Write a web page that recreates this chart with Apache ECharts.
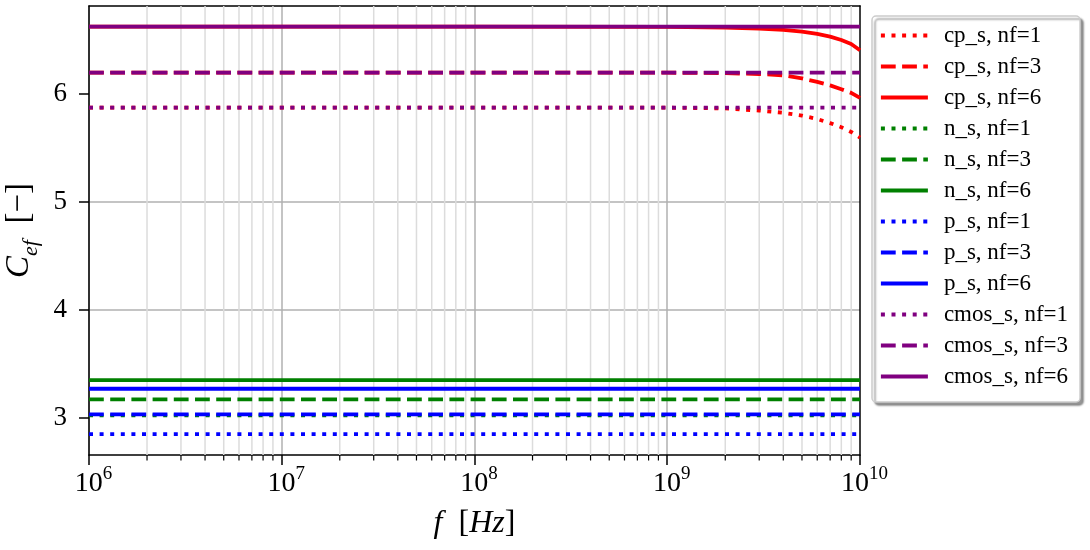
<!DOCTYPE html>
<html><head><meta charset="utf-8">
<script src="https://cdn.jsdelivr.net/npm/echarts@6/dist/echarts.min.js"></script>
<style>html,body{margin:0;padding:0;background:#fff}#c{width:1090px;height:550px}</style>
</head><body><div id="c"></div>
<script>
// ---- data ----
const freqs = [1e6, 1e7, 1e8, 1e9, 2e9, 3e9, 4e9, 5e9, 6e9, 7e9, 8e9, 9e9, 1e10];
const cpNf1 = [5.874, 5.874, 5.874, 5.873, 5.866, 5.846, 5.826, 5.800, 5.768, 5.730, 5.692, 5.648, 5.596];
const cpNf3 = [6.198, 6.198, 6.198, 6.197, 6.193, 6.185, 6.172, 6.145, 6.112, 6.080, 6.044, 6.010, 5.963];
const cpNf6 = [6.624, 6.624, 6.624, 6.622, 6.614, 6.605, 6.594, 6.578, 6.556, 6.531, 6.500, 6.463, 6.405];
const nNf1 = [3.022, 3.022, 3.022, 3.022, 3.022, 3.022, 3.022, 3.022, 3.022, 3.022, 3.022, 3.022, 3.022];
const nNf3 = [3.170, 3.170, 3.170, 3.170, 3.170, 3.170, 3.170, 3.170, 3.170, 3.170, 3.170, 3.170, 3.170];
const nNf6 = [3.349, 3.349, 3.349, 3.349, 3.349, 3.349, 3.349, 3.349, 3.349, 3.349, 3.349, 3.349, 3.349];
const pNf1 = [2.849, 2.849, 2.849, 2.849, 2.849, 2.849, 2.849, 2.849, 2.849, 2.849, 2.849, 2.849, 2.849];
const pNf3 = [3.031, 3.031, 3.031, 3.031, 3.031, 3.031, 3.031, 3.031, 3.031, 3.031, 3.031, 3.031, 3.031];
const pNf6 = [3.269, 3.269, 3.269, 3.269, 3.269, 3.269, 3.269, 3.269, 3.269, 3.269, 3.269, 3.269, 3.269];
const cmosNf1 = [5.874, 5.874, 5.874, 5.874, 5.874, 5.874, 5.874, 5.874, 5.874, 5.874, 5.874, 5.874, 5.874];
const cmosNf3 = [6.198, 6.198, 6.198, 6.198, 6.198, 6.198, 6.198, 6.198, 6.198, 6.198, 6.198, 6.198, 6.198];
const cmosNf6 = [6.624, 6.624, 6.624, 6.624, 6.624, 6.624, 6.624, 6.624, 6.624, 6.624, 6.624, 6.624, 6.624];
const seriesNames = ['cp_s, nf=1', 'cp_s, nf=3', 'cp_s, nf=6', 'n_s, nf=1', 'n_s, nf=3', 'n_s, nf=6',
  'p_s, nf=1', 'p_s, nf=3', 'p_s, nf=6', 'cmos_s, nf=1', 'cmos_s, nf=3', 'cmos_s, nf=6'];
const yTicks = [3, 4, 5, 6];
const minorTicks = [2e6, 3e6, 4e6, 5e6, 6e6, 7e6, 8e6, 9e6,
  2e7, 3e7, 4e7, 5e7, 6e7, 7e7, 8e7, 9e7,
  2e8, 3e8, 4e8, 5e8, 6e8, 7e8, 8e8, 9e8,
  2e9, 3e9, 4e9, 5e9, 6e9, 7e9, 8e9, 9e9];
const xMin = 1e6, xMax = 1e10, yMin = 2.655, yMax = 6.815;

// ---- styling ----
const FONT = 'Liberation Serif';
const DOT = [4, 6.6], DASH = [14.8, 6.4];
const LW = 3.8;
const valueSets = [cpNf1, cpNf3, cpNf6, nNf1, nNf3, nNf6, pNf1, pNf3, pNf6, cmosNf1, cmosNf3, cmosNf6];
const colors = ['#ff0000', '#ff0000', '#ff0000', '#008000', '#008000', '#008000',
  '#0000ff', '#0000ff', '#0000ff', '#800080', '#800080', '#800080'];
const types = [DOT, DASH, 'solid', DOT, DASH, 'solid', DOT, DASH, 'solid', DOT, DASH, 'solid'];

const lineSeries = seriesNames.map((name, k) => ({
  name, type: 'line', xAxisIndex: 0, yAxisIndex: 0,
  data: freqs.map((f, i) => [f, valueSets[k][i]]),
  symbol: 'none', showSymbol: false, z: 3,
  lineStyle: { color: colors[k], width: LW, type: types[k], cap: 'butt' },
  itemStyle: { color: colors[k] },
  emphasis: { disabled: true }
}));

const legendData = seriesNames.map((name, k) => ({
  name,
  itemStyle: { opacity: 0 },
  lineStyle: { color: colors[k], width: LW, type: types[k], cap: 'butt' }
}));

const minorSeries = {
  name: 'minor', type: 'custom', xAxisIndex: 0, yAxisIndex: 0, z: 1, clip: false, silent: true,
  data: minorTicks.map(f => [f, yMin]),
  renderItem: (params, api) => {
    const x = api.coord([api.value(0), yMin])[0];
    const top = params.coordSys.y, bottom = top + params.coordSys.height;
    return { type: 'group', children: [
      { type: 'line', shape: { x1: x, y1: top, x2: x, y2: bottom }, style: { stroke: '#dcdcdc', lineWidth: 1.5 } },
      { type: 'line', shape: { x1: x, y1: bottom, x2: x, y2: bottom + 5.5 }, style: { stroke: '#000', lineWidth: 1.2 } }
    ] };
  }
};

const chart = echarts.init(document.getElementById('c'), null, { renderer: 'canvas' });
chart.setOption({
  animation: false,
  backgroundColor: '#fff',
  grid: { left: 89, top: 6, width: 771, height: 449, containLabel: false, outerBoundsMode: 'none' },
  legend: {
    data: legendData, orient: 'vertical', left: 872, top: 16,
    itemWidth: 47, itemHeight: 20, itemGap: 8, selectedMode: false,
    padding: [8, 12, 14, 7],
    backgroundColor: '#fff', borderColor: '#cccccc', borderWidth: 1.5, borderRadius: 4,
    shadowColor: 'rgba(0,0,0,0.4)', shadowBlur: 2, shadowOffsetX: 3, shadowOffsetY: 3,
    textStyle: { fontFamily: FONT, fontSize: 23, color: '#000', padding: [0, 0, 0, 11], lineHeight: 20 }
  },
  xAxis: [{
    type: 'log', logBase: 10, min: xMin, max: xMax,
    name: '{i|f}  [{i|Hz}]', nameLocation: 'middle', nameGap: 51,
    nameTextStyle: { fontFamily: FONT, fontSize: 32, color: '#000',
      rich: { i: { fontFamily: FONT, fontSize: 32, fontStyle: 'italic', color: '#000' } } },
    axisLine: { lineStyle: { color: '#000', width: 1.5 } },
    axisTick: { length: 10, inside: false, lineStyle: { color: '#000', width: 1.5 } },
    axisLabel: {
      margin: 15, color: '#000', fontFamily: FONT, fontSize: 28, padding: [0, 0, 0, 9],
      formatter: v => '{b|10}{s|' + Math.round(Math.log10(v)) + '}',
      rich: {
        b: { fontFamily: FONT, fontSize: 28, lineHeight: 28, color: '#000' },
        s: { fontFamily: FONT, fontSize: 19, lineHeight: 19, padding: [0, 0, 19, 0], color: '#000' }
      }
    },
    splitLine: { show: true, showMinLine: false, showMaxLine: false, lineStyle: { color: '#b0b0b0', width: 1.5 } }
  }, {
    type: 'log', logBase: 10, min: xMin, max: xMax, position: 'top',
    axisLine: { lineStyle: { color: '#000', width: 1.5 } },
    axisTick: { show: false }, axisLabel: { show: false }, splitLine: { show: false }
  }],
  yAxis: [{
    type: 'value', min: yMin, max: yMax,
    name: '{c|C}{s|ef}{r|  [−]}', nameLocation: 'middle', nameGap: 44,
    nameTextStyle: { fontFamily: FONT, fontSize: 33, color: '#000',
      rich: {
        c: { fontFamily: FONT, fontSize: 33, lineHeight: 33, fontStyle: 'italic', color: '#000' },
        s: { fontFamily: FONT, fontSize: 22, lineHeight: 22, fontStyle: 'italic', padding: [24, 0, 0, 0], color: '#000' },
        r: { fontFamily: FONT, fontSize: 33, lineHeight: 33, color: '#000' }
      } },
    axisLine: { show: true, lineStyle: { color: '#000', width: 1.5 } },
    axisTick: { show: true, length: 10, inside: false, customValues: yTicks, lineStyle: { color: '#000', width: 1.5 } },
    axisLabel: { margin: 22, color: '#000', fontFamily: FONT, fontSize: 27, customValues: yTicks },
    splitLine: { show: true, showMinLine: false, showMaxLine: false, lineStyle: { color: '#b0b0b0', width: 1.5 } }
  }, {
    type: 'value', min: yMin, max: yMax, position: 'right',
    axisLine: { show: true, lineStyle: { color: '#000', width: 1.5 } },
    axisTick: { show: false }, axisLabel: { show: false }, splitLine: { show: false }
  }],
  series: [minorSeries].concat(lineSeries)
});
</script></body></html>
